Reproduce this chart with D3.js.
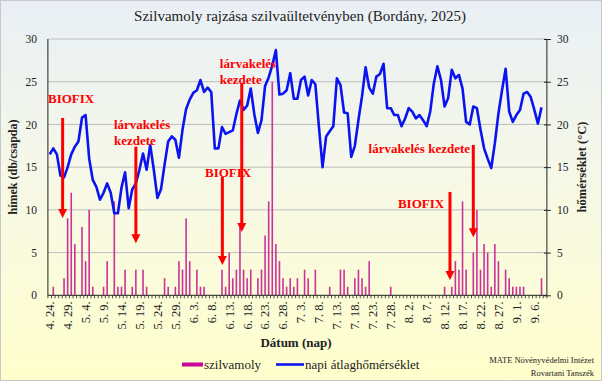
<!DOCTYPE html>
<html><head><meta charset="utf-8">
<script src="https://cdn.jsdelivr.net/npm/d3@7/dist/d3.min.js"></script>
<style>html,body{margin:0;padding:0;background:#fff;}svg{display:block;}</style>
</head><body>
<svg id="c" width="608" height="384"></svg>
<script>
// ---- data ----
const startDate = "2025-04-24";
const dayCount = 139;
const tickLabels = ["4. 24.","4. 29.","5. 4.","5. 9.","5. 14.","5. 19.","5. 24.","5. 29.","6. 3.","6. 8.","6. 13.","6. 18.","6. 23.","6. 28.","7. 3.","7. 8.","7. 13.","7. 18.","7. 23.","7. 28.","8. 2.","8. 7.","8. 12.","8. 17.","8. 22.","8. 27.","9. 1.","9. 6."];
const mothCounts = [0,1,0,0,2,9,12,6,0,8,4,10,1,0,0,1,4,0,11,1,1,3,0,1,3,0,3,1,0,0,0,0,2,1,0,1,4,3,9,4,0,3,1,1,0,0,0,0,3,1,5,2,3,8,3,2,3,0,2,3,7,11,25,6,4,2,1,2,1,2,0,3,2,0,3,0,0,0,1,0,0,3,3,1,0,2,3,2,1,4,0,0,0,0,0,1,0,0,0,0,0,0,0,0,0,0,0,0,0,0,1,0,1,4,3,11,3,0,5,10,3,6,5,1,6,4,0,3,2,1,1,1,1,0,0,0,0,2,0];
const temperature = [16.5,17.2,16.5,14.0,13.8,15.0,16.5,17.4,18.0,20.8,21.1,16.0,13.5,12.7,11.2,12.0,13.1,12.0,9.6,9.6,12.6,14.4,10.2,12.4,13.1,14.7,16.6,14.7,17.6,14.7,11.4,12.4,15.3,18.0,18.6,18.2,16.1,19.4,21.8,22.9,23.7,24.0,25.2,23.8,24.3,23.8,17.2,17.2,19.7,18.9,19.1,19.3,21.2,22.8,21.7,22.2,24.2,21.2,19.0,20.5,24.5,25.5,26.9,28.7,23.5,23.6,24.0,26.0,23.0,23.0,25.2,25.6,23.4,25.2,24.7,19.7,15.0,18.6,19.2,19.8,25.4,24.6,21.4,21.3,16.2,17.5,20.5,23.3,26.7,24.3,23.6,25.6,25.9,27.1,21.9,21.9,21.1,21.1,19.8,20.7,21.9,21.5,20.7,21.1,20.5,19.8,21.5,24.8,26.8,25.2,22.1,23.1,26.4,25.4,25.8,24.2,20.3,20.0,22.1,21.9,19.4,17.2,16.0,14.9,17.8,21.3,24.0,26.5,21.5,20.3,21.1,21.7,23.6,23.8,23.2,21.7,20.1,22.0,null];
const yTicks = [0,5,10,15,20,25,30];
// annotations: position in day index / value units
const arrows = [
  {day:3.6, from:20.75, to:9.05},
  {day:24.0, from:17.4, to:6.1},
  {day:48.1, from:13.85, to:3.55},
  {day:53.5, from:24.85, to:7.4},
  {day:118.0, from:17.6, to:6.8},
  {day:111.5, from:12.1, to:1.8}
];
const notes = [
  {day:-0.47, v:22.5, lines:["BIOFIX"], anchor:"start"},
  {day:17.9, v:19.47, lines:["lárvakelés","kezdete"], anchor:"start"},
  {day:43.26, v:13.85, lines:["BIOFIX"], anchor:"start"},
  {day:47.4, v:26.6, lines:["lárvakelés","kezdete"], anchor:"start"},
  {day:117.1, v:16.65, lines:["lárvakelés kezdete"], anchor:"end"},
  {day:97.0, v:10.2, lines:["BIOFIX"], anchor:"start"}
];

// ---- chart ----
const svg = d3.select("#c");
const serif = "'Liberation Serif','Times New Roman',serif";
const defs = svg.append("defs");
const g1 = defs.append("linearGradient").attr("id","bg").attr("x1",0).attr("y1",0).attr("x2",0).attr("y2",1);
g1.append("stop").attr("offset","0%").attr("stop-color","#E9EFF5");
g1.append("stop").attr("offset","45%").attr("stop-color","#F6F8E8");
g1.append("stop").attr("offset","100%").attr("stop-color","#FFFFCC");
svg.append("rect").attr("x",0.5).attr("y",0.5).attr("width",601).attr("height",380)
  .attr("fill","url(#bg)").attr("stroke","#C8C8C8");

const parse = d3.timeParse("%Y-%m-%d");
const d0 = parse(startDate);
const days = d3.range(dayCount).map(i => d3.timeDay.offset(d0, i));
const fmt = d => (d.getMonth()+1) + ". " + d.getDate() + ".";
const cats = days.map(fmt);

const L = 47.9, R = 546.9, T = 39, B = 295.3;
const x = d3.scaleBand().domain(cats).range([L, R]).padding(0);
const bw = x.bandwidth();
const y = d3.scaleLinear().domain([0, 30]).range([B, T]);

// gridlines
svg.append("g").selectAll("line").data(yTicks.filter(t => t > 0)).join("line")
  .attr("x1", L).attr("x2", R).attr("y1", d => y(d)).attr("y2", d => y(d))
  .attr("stroke", "#BDBDBD").attr("stroke-width", 1);

// bars
svg.append("g").selectAll("rect").data(mothCounts.map((v,i)=>({v,i})).filter(d=>d.v>0)).join("rect")
  .attr("x", d => x(cats[d.i]) + bw/2 - 0.8).attr("width", 1.6)
  .attr("y", d => y(d.v)).attr("height", d => y(0) - y(d.v))
  .attr("fill", "#CC3399");

// temperature line
const line = d3.line().defined(d => d.t != null).x(d => x(cats[d.i]) + bw/2).y(d => y(d.t));
svg.append("path").datum(temperature.map((t,i)=>({t,i})))
  .attr("d", line).attr("fill","none").attr("stroke","#0A14F0").attr("stroke-width",2.6)
  .attr("stroke-linejoin","round");

// axes lines
svg.append("line").attr("x1",L).attr("x2",L).attr("y1",T).attr("y2",B).attr("stroke","#222").attr("stroke-width",1);
svg.append("line").attr("x1",R).attr("x2",R).attr("y1",T).attr("y2",B).attr("stroke","#222").attr("stroke-width",1);
svg.append("line").attr("x1",L).attr("x2",R).attr("y1",B).attr("y2",B).attr("stroke","#222").attr("stroke-width",1);

// left axis labels
const ya = d3.axisLeft(y).tickValues(yTicks).tickSize(0).tickPadding(11).tickFormat(d3.format("d"));
const gl = svg.append("g").attr("transform",`translate(${L},0)`).call(ya);
gl.select(".domain").remove();
gl.selectAll("text").attr("font-family",serif).attr("font-size",11.5).attr("fill","#222");
// right axis
const yr = d3.axisRight(y).tickValues(yTicks).tickSize(4).tickPadding(6).tickFormat(d3.format("d"));
const gr = svg.append("g").attr("transform",`translate(${R},0)`).call(yr);
gr.select(".domain").remove();
gr.selectAll("line").attr("stroke","#222").attr("x1",-3);
gr.selectAll("text").attr("font-family",serif).attr("font-size",11.5).attr("fill","#222");

// x minor ticks
svg.append("g").selectAll("line").data(d3.range(dayCount+1)).join("line")
  .attr("x1", i => L + i*bw).attr("x2", i => L + i*bw).attr("y1", B).attr("y2", B+3)
  .attr("stroke","#222").attr("stroke-width",0.8);
// x labels
svg.append("g").selectAll("text").data(tickLabels).join("text")
  .attr("transform", (t) => `translate(${x(t) + bw/2},${B+6}) rotate(-90)`)
  .attr("text-anchor","end").attr("dy","0.35em")
  .attr("font-family",serif).attr("font-size",12.5).attr("fill","#222")
  .text(t => t);

// titles
svg.append("text").attr("x",300).attr("y",21).attr("text-anchor","middle")
  .attr("font-family",serif).attr("font-size",15).attr("fill","#222")
  .text("Szilvamoly rajzása szilvaültetvényben (Bordány, 2025)");
svg.append("text").attr("transform","translate(17,167) rotate(-90)").attr("text-anchor","middle")
  .attr("font-family",serif).attr("font-size",12).attr("font-weight","bold").attr("fill","#222")
  .text("hímek (db/csapda)");
svg.append("text").attr("transform","translate(586,167) rotate(-90)").attr("text-anchor","middle")
  .attr("font-family",serif).attr("font-size",12.5).attr("font-weight","bold").attr("fill","#222")
  .text("hőmérséklet (°C)");
svg.append("text").attr("x",296).attr("y",347).attr("text-anchor","middle")
  .attr("font-family",serif).attr("font-size",13).attr("font-weight","bold").attr("fill","#222")
  .text("Dátum (nap)");

// legend
svg.append("rect").attr("x",182).attr("y",362.5).attr("width",21).attr("height",4).attr("fill","#CC0099");
svg.append("text").attr("x",204).attr("y",369).attr("font-family",serif).attr("font-size",13).attr("fill","#222").text("szilvamoly");
svg.append("line").attr("x1",276).attr("x2",304).attr("y1",364.5).attr("y2",364.5).attr("stroke","#0A14F0").attr("stroke-width",2.6);
svg.append("text").attr("x",305).attr("y",369).attr("font-family",serif).attr("font-size",13).attr("fill","#222").text("napi átlaghőmérséklet");

// credit
svg.append("text").attr("x",594).attr("y",363).attr("text-anchor","end").attr("font-family",serif).attr("font-size",8.5).attr("fill","#222").text("MATE Növényvédelmi Intézet");
svg.append("text").attr("x",594).attr("y",376).attr("text-anchor","end").attr("font-family",serif).attr("font-size",8.5).attr("fill","#222").text("Rovartani Tanszék");

// annotations
const xd = d => L + (d + 0.5) * bw;
const ag = svg.append("g");
arrows.forEach(a => {
  const ax = xd(a.day), y1 = y(a.from), y2 = y(a.to);
  ag.append("line").attr("x1",ax).attr("x2",ax).attr("y1",y1).attr("y2",y2-7)
    .attr("stroke","#FF0000").attr("stroke-width",3);
  ag.append("path").attr("d",`M${ax-4.5},${y2-9}L${ax+4.5},${y2-9}L${ax},${y2}Z`).attr("fill","#FF0000");
});
notes.forEach(n => {
  const t = ag.append("text").attr("x", xd(n.day)).attr("y", y(n.v)).attr("text-anchor", n.anchor)
    .attr("font-family",serif).attr("font-size",13).attr("font-weight","bold").attr("fill","#FF0000");
  n.lines.forEach((s,k) => t.append("tspan").attr("x", xd(n.day)).attr("dy", k===0?0:16).text(s));
});
</script>
</body></html>
